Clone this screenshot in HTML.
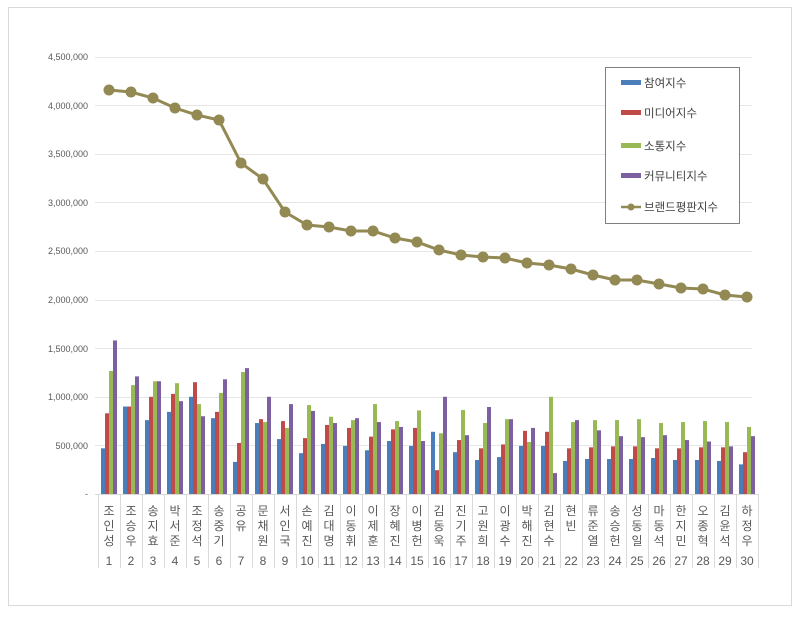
<!DOCTYPE html>
<html><head><meta charset="utf-8"><style>
html,body{margin:0;padding:0;background:#fff;}
svg text{font-family:"Liberation Sans","Noto Sans CJK KR",sans-serif;}
</style></head><body>
<svg id="c" width="800" height="615" viewBox="0 0 800 615" xmlns="http://www.w3.org/2000/svg">
<rect x="8.5" y="7.5" width="783" height="598" fill="#fff" stroke="#d9d9d9"/>
<g id="grid" stroke="#e6e6e6" stroke-width="1"></g>
<g font-size="9" fill="#595959" text-anchor="end">
<text x="88" y="497">-</text>
<text x="88" y="449">500,000</text>
<text x="88" y="400">1,000,000</text>
<text x="88" y="352">1,500,000</text>
<text x="88" y="303">2,000,000</text>
<text x="88" y="254">2,500,000</text>
<text x="88" y="206">3,000,000</text>
<text x="88" y="157">3,500,000</text>
<text x="88" y="109">4,000,000</text>
<text x="88" y="60">4,500,000</text>
</g>
<g id="bars"></g>
<g id="line"></g>
<g id="cats" font-size="12" fill="#595959" text-anchor="middle"></g>
<rect x="605.5" y="67.5" width="134" height="156" fill="#fff" stroke="#7f7f7f"/>
<rect x="621" y="80" width="20" height="5" fill="#4a7ebb"/>
<rect x="621" y="110" width="20" height="5" fill="#be4b48"/>
<rect x="621" y="143" width="20" height="5" fill="#98b954"/>
<rect x="621" y="173" width="20" height="5" fill="#7d60a0"/>
<line x1="621" y1="207" x2="641" y2="207" stroke="#938953" stroke-width="2.5"/>
<circle cx="631" cy="207" r="3.5" fill="#938953"/>
<g font-size="11.5" fill="#404040">
<text x="644" y="87">참여지수</text>
<text x="644" y="117">미디어지수</text>
<text x="644" y="150">소통지수</text>
<text x="644" y="180">커뮤니티지수</text>
<text x="644" y="211">브랜드평판지수</text>
</g>
</svg>
<script>
var NS="http://www.w3.org/2000/svg";
function el(p,t,a){var e=document.createElementNS(NS,t);for(var k in a)e.setAttribute(k,a[k]);p.appendChild(e);return e;}
var Y0=494,S=48.6/500;
function y(v){return Y0-v*S;}
var g=document.getElementById('grid');
for(var i=1;i<=9;i++){var yy=Math.round(y(i*500))+.5;el(g,'line',{x1:95,x2:752,y1:yy,y2:yy});}
el(g,'line',{x1:95,x2:758,y1:494.5,y2:494.5,stroke:'#d9d9d9'});
var B=[[470,830,1265,1580],[900,900,1120,1210],[760,1000,1160,1160],[845,1030,1140,955],[1000,1150,925,800],[780,845,1040,1180],[330,525,1255,1295],[730,770,740,1000],[565,750,680,925],[420,575,915,855],[515,710,795,730],[495,680,760,780],[450,590,925,740],[545,665,750,690],[495,680,860,545],[640,245,625,1000],[430,555,865,605],[350,470,730,895],[380,510,770,770],[495,650,535,680],[495,640,1000,215],[340,470,740,760],[360,480,760,655],[360,490,760,595],[360,490,770,585],[370,470,730,605],[350,470,740,555],[350,480,750,540],[340,480,740,490],[305,430,690,595]];
var L=[90,92,98,108,115,120,163,179,212,225,227,231,231,238,242,250,255,257,258,263,265,269,275,280,280,284,288,289,295,297];
var C=['#4a7ebb','#be4b48','#98b954','#7d60a0'];
var bg=document.getElementById('bars'),X0=98,W=22;
for(var i=0;i<30;i++){for(var j=0;j<4;j++){var h=B[i][j]*S;el(bg,'rect',{x:X0+i*W+3+j*4,y:Y0-h,width:4,height:h,fill:C[j]});}
 el(g,'line',{x1:X0+i*W+.5,x2:X0+i*W+.5,y1:494,y2:568,stroke:'#d9d9d9'});}
el(g,'line',{x1:X0+30*W+.5,x2:X0+30*W+.5,y1:494,y2:568,stroke:'#d9d9d9'});
var lg=document.getElementById('line'),pts=[];
for(var i=0;i<30;i++)pts.push((X0+i*W+11)+','+L[i]);
el(lg,'polyline',{points:pts.join(' '),fill:'none',stroke:'#938953','stroke-width':3});
for(var i=0;i<30;i++)el(lg,'circle',{cx:X0+i*W+11,cy:L[i],r:5.5,fill:'#938953'});
</script>
<svg width="800" height="615" style="position:absolute;left:0;top:0" xmlns="http://www.w3.org/2000/svg">
<g font-size="12" fill="#595959" text-anchor="middle" font-family="Liberation Sans, Noto Sans CJK KR, sans-serif">
<text x="109" y="515">조</text><text x="109" y="530">인</text><text x="109" y="545">성</text><text x="109" y="565">1</text>
<text x="131" y="515">조</text><text x="131" y="530">승</text><text x="131" y="545">우</text><text x="131" y="565">2</text>
<text x="153" y="515">송</text><text x="153" y="530">지</text><text x="153" y="545">효</text><text x="153" y="565">3</text>
<text x="175" y="515">박</text><text x="175" y="530">서</text><text x="175" y="545">준</text><text x="175" y="565">4</text>
<text x="197" y="515">조</text><text x="197" y="530">정</text><text x="197" y="545">석</text><text x="197" y="565">5</text>
<text x="219" y="515">송</text><text x="219" y="530">중</text><text x="219" y="545">기</text><text x="219" y="565">6</text>
<text x="241" y="515">공</text><text x="241" y="530">유</text><text x="241" y="565">7</text>
<text x="263" y="515">문</text><text x="263" y="530">채</text><text x="263" y="545">원</text><text x="263" y="565">8</text>
<text x="285" y="515">서</text><text x="285" y="530">인</text><text x="285" y="545">국</text><text x="285" y="565">9</text>
<text x="307" y="515">손</text><text x="307" y="530">예</text><text x="307" y="545">진</text><text x="307" y="565">10</text>
<text x="329" y="515">김</text><text x="329" y="530">대</text><text x="329" y="545">명</text><text x="329" y="565">11</text>
<text x="351" y="515">이</text><text x="351" y="530">동</text><text x="351" y="545">휘</text><text x="351" y="565">12</text>
<text x="373" y="515">이</text><text x="373" y="530">제</text><text x="373" y="545">훈</text><text x="373" y="565">13</text>
<text x="395" y="515">장</text><text x="395" y="530">혜</text><text x="395" y="545">진</text><text x="395" y="565">14</text>
<text x="417" y="515">이</text><text x="417" y="530">병</text><text x="417" y="545">헌</text><text x="417" y="565">15</text>
<text x="439" y="515">김</text><text x="439" y="530">동</text><text x="439" y="545">욱</text><text x="439" y="565">16</text>
<text x="461" y="515">진</text><text x="461" y="530">기</text><text x="461" y="545">주</text><text x="461" y="565">17</text>
<text x="483" y="515">고</text><text x="483" y="530">원</text><text x="483" y="545">희</text><text x="483" y="565">18</text>
<text x="505" y="515">이</text><text x="505" y="530">광</text><text x="505" y="545">수</text><text x="505" y="565">19</text>
<text x="527" y="515">박</text><text x="527" y="530">해</text><text x="527" y="545">진</text><text x="527" y="565">20</text>
<text x="549" y="515">김</text><text x="549" y="530">현</text><text x="549" y="545">수</text><text x="549" y="565">21</text>
<text x="571" y="515">현</text><text x="571" y="530">빈</text><text x="571" y="565">22</text>
<text x="593" y="515">류</text><text x="593" y="530">준</text><text x="593" y="545">열</text><text x="593" y="565">23</text>
<text x="615" y="515">송</text><text x="615" y="530">승</text><text x="615" y="545">헌</text><text x="615" y="565">24</text>
<text x="637" y="515">성</text><text x="637" y="530">동</text><text x="637" y="545">일</text><text x="637" y="565">25</text>
<text x="659" y="515">마</text><text x="659" y="530">동</text><text x="659" y="545">석</text><text x="659" y="565">26</text>
<text x="681" y="515">한</text><text x="681" y="530">지</text><text x="681" y="545">민</text><text x="681" y="565">27</text>
<text x="703" y="515">오</text><text x="703" y="530">종</text><text x="703" y="545">혁</text><text x="703" y="565">28</text>
<text x="725" y="515">김</text><text x="725" y="530">윤</text><text x="725" y="545">석</text><text x="725" y="565">29</text>
<text x="747" y="515">하</text><text x="747" y="530">정</text><text x="747" y="545">우</text><text x="747" y="565">30</text>
</g>
</svg>
</body></html>
